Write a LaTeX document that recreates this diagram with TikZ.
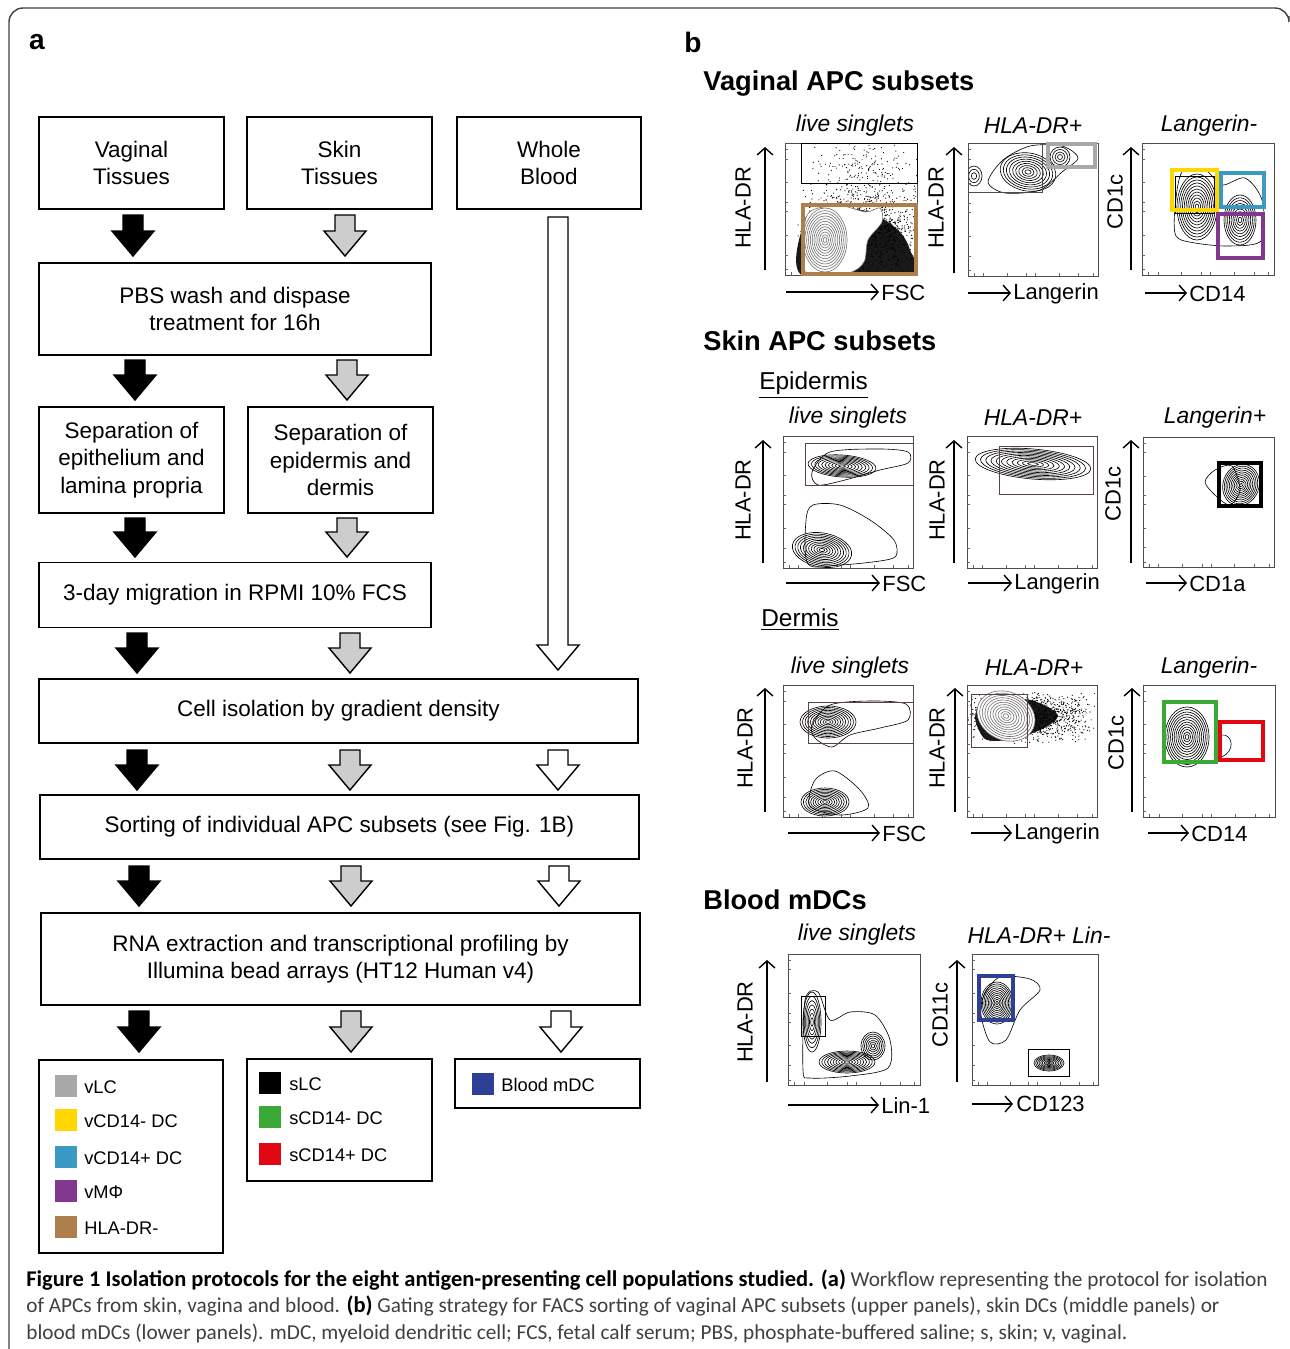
\documentclass[tikz,border=0pt]{standalone}
\usepackage{fontspec}
\setmainfont{Liberation Sans}
\newfontfamily\capfont{Carlito}
\usetikzlibrary{arrows.meta,fit,calc}

\definecolor{vlcgray}{HTML}{A8A8A8}
\definecolor{vyellow}{HTML}{FFD700}
\definecolor{vblue}{HTML}{3A9AC4}
\definecolor{vpurple}{HTML}{833890}
\definecolor{vtan}{HTML}{AD7F4C}
\definecolor{sgreen}{HTML}{3AA935}
\definecolor{sred}{HTML}{E30613}
\definecolor{mdcblue}{HTML}{2F3F96}
\definecolor{arrowgray}{HTML}{CDCDCD}
\definecolor{gatebrown}{HTML}{5B4343}
\definecolor{captext}{HTML}{404040}

% block arrow between two steps: fill, x, top, tip
\newcommand\flowdown[4]{%
  \draw[flowline, fill=#1] (#2-10,#3) -- (#2+10,#3) -- (#2+10,#4-25) -- (#2+21,#4-25)
    -- (#2,#4) -- (#2-21,#4-25) -- (#2-10,#4-25) -- cycle;}
% nested contour lines: cx, cy, rx, ry, n, rotation
\newcommand\contours[6]{%
  \foreach \k in {1,...,#5}{%
    \draw[contour, rotate around={#6:(#1,#2)}] (#1,#2)
      ellipse [x radius={#3*(1-(\k-1)/#5)}, y radius={#4*(1-(\k-1)/#5)}];}}
% cloud of events: n, cx, cy, sx, sy
\newcommand\scatterdots[5]{%
  \foreach \k in {1,...,#1}{%
    \pgfmathsetmacro\px{#2+#4*(rand+rand)/2}%
    \pgfmathsetmacro\py{#3+#5*(rand+rand)/2}%
    \fill (\px,\py) circle [radius=0.6];}}
% small ticks along left and bottom edges
\newcommand\plotticks[4]{%
  \foreach \t in {0.05,0.12,0.3,0.45,0.52,0.7,0.85,0.96}{%
    \draw[tick] ({#1+\t*(#3-#1)},#4) -- ++(0,-3);
    \draw[tick] (#1,{#2+\t*(#4-#2)}) -- ++(3,0);}}
\newcommand\capbold[1]{{\color{black}\fontsize{12.8}{14}\selectfont\bfseries #1}}

\begin{document}
\begin{tikzpicture}[x=0.02cm, y=-0.02cm,
  stepbox/.style={draw, line width=1.1pt, inner sep=0pt, align=center,
    font=\fontsize{12.8}{15.6}\selectfont},
  legbox/.style={draw, line width=1.1pt, inner sep=0pt},
  swatch/.style={minimum size=0.44cm, inner sep=0pt},
  legtext/.style={anchor=west, inner sep=0pt, font=\fontsize{10.4}{12}\selectfont},
  flowline/.style={line width=0.8pt, line join=miter},
  plotbox/.style={draw=black!70, line width=0.5pt, inner sep=0pt},
  gate/.style={draw=gatebrown, line width=0.5pt},
  thickgate/.style={line width=2.3pt},
  contour/.style={line width=0.35pt},
  tick/.style={line width=0.3pt, black!60},
  axis/.style={line width=0.8pt, -{Straight Barb[length=4pt,width=9pt]}},
  axlabel/.style={inner sep=0pt, font=\fontsize{12.5}{14}\selectfont},
  plottitle/.style={inner sep=0pt, font=\fontsize{13}{15}\selectfont\itshape},
  heading/.style={anchor=west, inner sep=0pt, font=\fontsize{15.5}{18}\selectfont\bfseries},
  subheading/.style={anchor=west, inner sep=0pt, font=\fontsize{13.9}{16}\selectfont},
  panel/.style={inner sep=0pt, font=\fontsize{16}{18}\selectfont\bfseries},
  capline/.style={anchor=base west, inner sep=0pt, text=captext,
    font=\capfont\fontsize{12.1}{14}\selectfont}
  ]
\useasboundingbox (0,0) rectangle (1290,1349);

% outer frame
\draw[line width=0.8pt, black!75, rounded corners=8] (9,1349) -- (9,8) -- (1289,8) -- (1289,16);

\node[panel] (labA) at (37,42) {a};
\node[panel] (labB) at (693,42) {b};

% ---------------- panel a: workflow ----------------
\node[stepbox, minimum width=3.7cm, minimum height=1.84cm] (vag) at (131.5,163) {Vaginal\\Tissues};
\node[stepbox, minimum width=3.7cm, minimum height=1.84cm] (skin) at (339.5,163) {Skin\\Tissues};
\node[stepbox, minimum width=3.68cm, minimum height=1.84cm] (blood) at (549,163) {Whole\\Blood};
\node[stepbox, minimum width=7.84cm, minimum height=1.84cm] (pbs) at (235,309) {PBS wash and dispase\\treatment for 16h};
\node[stepbox, minimum width=3.7cm, minimum height=2.12cm] (sepvag) at (131.5,460) {Separation of\\epithelium and\\lamina propria};
\node[stepbox, minimum width=3.7cm, minimum height=2.12cm] (sepskin) at (340.5,460) {Separation of\\epidermis and\\dermis};
\node[stepbox, minimum width=7.84cm, minimum height=1.3cm] (migr) at (235,595) {3-day migration in RPMI 10\% FCS};
\node[stepbox, minimum width=11.98cm, minimum height=1.28cm] (grad) at (338.5,711) {Cell isolation by gradient density};
\node[stepbox, minimum width=11.98cm, minimum height=1.28cm] (sort) at (339.5,827) {Sorting of individual APC subsets (see Fig. 1B)};
\node[stepbox, minimum width=11.98cm, minimum height=1.84cm] (rna) at (340.5,959) {RNA extraction and transcriptional profiling by\\Illumina bead arrays (HT12 Human v4)};

% arrows: vaginal (black), skin (gray), blood (white)
\flowdown{black}{133}{215}{256}
\flowdown{arrowgray}{345}{215}{256}
\flowdown{white}{558}{217}{670}
\flowdown{black}{135}{360}{400}
\flowdown{arrowgray}{347}{360}{400}
\flowdown{black}{135}{518}{557}
\flowdown{arrowgray}{347}{518}{557}
\flowdown{black}{137}{633}{673}
\flowdown{arrowgray}{350}{633}{673}
\flowdown{black}{137}{750}{790}
\flowdown{arrowgray}{350}{750}{790}
\flowdown{white}{558}{750}{790}
\flowdown{black}{139}{866}{906}
\flowdown{arrowgray}{351}{866}{906}
\flowdown{white}{559}{866}{906}
\flowdown{black}{139}{1011}{1052}
\flowdown{arrowgray}{351}{1011}{1052}
\flowdown{white}{561}{1011}{1052}

% legends
\node[legbox, fit={(39,1060) (223,1253)}] (leg1) {};
\node[legbox, fit={(247,1059) (432,1181)}] (leg2) {};
\node[legbox, fit={(455,1059) (640,1108)}] (leg3) {};

\node[swatch, fill=vlcgray] (sw1) at (66,1086) {};
\node[legtext] (lt1) at (84,1087) {vLC};
\node[swatch, fill=vyellow] (sw2) at (66,1120) {};
\node[legtext] (lt2) at (84,1121) {vCD14- DC};
\node[swatch, fill=vblue] (sw3) at (66,1157) {};
\node[legtext] (lt3) at (84,1158) {vCD14+ DC};
\node[swatch, fill=vpurple] (sw4) at (66,1191) {};
\node[legtext] (lt4) at (84,1192) {vMΦ};
\node[swatch, fill=vtan] (sw5) at (66,1227) {};
\node[legtext] (lt5) at (84,1228) {HLA-DR-};

\node[swatch, fill=black] (sw6) at (270,1083) {};
\node[legtext] (lt6) at (289,1084) {sLC};
\node[swatch, fill=sgreen] (sw7) at (270,1117) {};
\node[legtext] (lt7) at (289,1118) {sCD14- DC};
\node[swatch, fill=sred] (sw8) at (270,1154) {};
\node[legtext] (lt8) at (289,1155) {sCD14+ DC};

\node[swatch, fill=mdcblue] (sw9) at (483,1084) {};
\node[legtext] (lt9) at (501,1085) {Blood mDC};

% ---------------- panel b: gating ----------------
\node[heading] (hvag) at (703,84) {Vaginal APC subsets};
\node[heading] (hskin) at (703,341) {Skin APC subsets};
\node[subheading] (hepi) at (759,385) {\underline{Epidermis}};
\node[subheading] (hder) at (761,620) {\underline{Dermis}};
\node[heading] (hbld) at (703,900) {Blood mDCs};

% --- vaginal row ---
\node[plottitle] (tv1) at (855,126) {live singlets};
\node[plottitle] (tv2) at (1033,126) {HLA-DR+};
\node[plottitle] (tv3) at (1209,126) {Langerin-};

\begin{scope}
  \clip (785,143) rectangle (917,275);
  \pgfmathsetseed{11}
  \scatterdots{170}{862}{168}{60}{28}
  \fill[black!90] plot[smooth cycle] coordinates {(803,276) (804,222) (820,210) (850,208) (878,216) (900,232) (910,250) (912,276)};
  \scatterdots{1500}{862}{228}{66}{46}
  \fill[white] plot[smooth cycle] coordinates {(806,273) (805,222) (815,209) (842,206) (866,212) (880,208) (882,222) (868,240) (864,262) (848,273)};
  \begin{scope}[draw=black!55]
    \draw[contour] plot[smooth cycle] coordinates {(806,273) (805,222) (815,209) (842,206) (866,212) (880,208) (882,222) (868,240) (864,262) (848,273)};
    \contours{825}{240}{22}{32}{12}{0}
  \end{scope}
\end{scope}
\node[plotbox, fit={(785,143) (917,275)}] (vp1) {};
\plotticks{785}{143}{917}{275}
\draw[gate, draw=black] (801,143) rectangle (917,183);
\draw[thickgate, draw=vtan] (803,205) rectangle (916,274);

\begin{scope}
  \clip (968,143) rectangle (1098,276);
  \draw[contour] plot[smooth cycle] coordinates {(988,182) (1003,160) (1030,146) (1062,146) (1078,158) (1062,172) (1040,190) (1005,193)};
  \contours{1028}{172}{28}{19}{9}{-10}
  \contours{1060}{157}{10}{10}{4}{0}
  \contours{974}{176}{8}{10}{3}{0}
\end{scope}
\node[plotbox, fit={(968,143) (1098,276)}] (vp2) {};
\plotticks{968}{143}{1098}{276}
\draw[gate, draw=black!70] (968,143) rectangle (1042,192);
\draw[thickgate, draw=vlcgray] (1048,144) rectangle (1095,167);

\begin{scope}
  \clip (1142,143) rectangle (1274,275);
  \draw[contour] plot[smooth cycle] coordinates {(1175,208) (1182,172) (1205,170) (1222,185) (1245,178) (1262,200) (1262,240) (1230,246) (1195,243) (1176,236)};
  \contours{1197}{207}{20}{33}{11}{0}
  \contours{1240}{220}{16}{25}{9}{0}
\end{scope}
\node[plotbox, fit={(1142,143) (1274,275)}] (vp3) {};
\plotticks{1142}{143}{1274}{275}
\draw[gate, draw=black] (1175,176) rectangle (1214,213);
\draw[thickgate, draw=vyellow] (1172,170) rectangle (1217,210);
\draw[thickgate, draw=vblue] (1221,173) rectangle (1264,207);
\draw[thickgate, draw=vpurple] (1218,214) rectangle (1263,258);

\draw[axis] (765,270) -- (765,147);
\node[axlabel, rotate=90] (yv1) at (743,208) {HLA-DR};
\draw[axis] (786,292) -- (879,292);
\node[axlabel, anchor=west] (xv1) at (881,293) {FSC};
\draw[axis] (954,273) -- (954,147);
\node[axlabel, rotate=90] (yv2) at (936,208) {HLA-DR};
\draw[axis] (968,293) -- (1011,293);
\node[axlabel, anchor=west] (xv2) at (1013,294) {Langerin};
\draw[axis] (1131,270) -- (1131,147);
\node[axlabel, rotate=90] (yv3) at (1115,202) {CD1c};
\draw[axis] (1145,293) -- (1187,293);
\node[axlabel, anchor=west] (xv3) at (1189,294) {CD14};

% --- epidermis row ---
\node[plottitle] (te1) at (848,418) {live singlets};
\node[plottitle] (te2) at (1033,418) {HLA-DR+};
\node[plottitle] (te3) at (1215,418) {Langerin+};

\begin{scope}
  \clip (783,436) rectangle (913,568);
  \draw[contour] plot[smooth cycle] coordinates {(812,472) (830,452) (880,449) (908,452) (908,463) (880,470) (845,480) (818,485)};
  \contours{842}{466}{34}{11}{10}{-4}
  \draw[contour] plot[smooth cycle] coordinates {(808,564) (806,520) (813,505) (840,505) (870,520) (894,540) (896,556) (880,561) (840,565)};
  \contours{822}{550}{30}{17}{11}{-10}
\end{scope}
\node[plotbox, fit={(783,436) (913,568)}] (ep1) {};
\plotticks{783}{436}{913}{568}
\draw[gate] (805,443) rectangle (913,485);

\begin{scope}
  \clip (967,436) rectangle (1097,568);
  \contours{1033}{464}{58}{15}{11}{-5}
\end{scope}
\node[plotbox, fit={(967,436) (1097,568)}] (ep2) {};
\plotticks{967}{436}{1097}{568}
\draw[gate] (999,446) rectangle (1093,494);

\begin{scope}
  \clip (1143,437) rectangle (1274,567);
  \draw[contour] plot[smooth cycle] coordinates {(1205,482) (1215,470) (1232,466) (1240,490) (1230,505) (1216,496)};
  \contours{1241}{485}{18}{21}{11}{-20}
\end{scope}
\node[plotbox, fit={(1143,437) (1274,567)}] (ep3) {};
\plotticks{1143}{437}{1274}{567}
\draw[thickgate, draw=black, line width=2.8pt] (1219,463) rectangle (1261,506);

\draw[axis] (763,563) -- (763,440);
\node[axlabel, rotate=90] (ye1) at (743,500) {HLA-DR};
\draw[axis] (786,583) -- (880,583);
\node[axlabel, anchor=west] (xe1) at (882,584) {FSC};
\draw[axis] (954,563) -- (954,440);
\node[axlabel, rotate=90] (ye2) at (937,500) {HLA-DR};
\draw[axis] (968,583) -- (1012,583);
\node[axlabel, anchor=west] (xe2) at (1014,584) {Langerin};
\draw[axis] (1131,563) -- (1131,440);
\node[axlabel, rotate=90] (ye3) at (1113,494) {CD1c};
\draw[axis] (1146,583) -- (1187,583);
\node[axlabel, anchor=west] (xe3) at (1189,584) {CD1a};

% --- dermis row ---
\node[plottitle] (td1) at (850,668) {live singlets};
\node[plottitle] (td2) at (1034,668) {HLA-DR+};
\node[plottitle] (td3) at (1209,668) {Langerin-};

\begin{scope}
  \clip (783,685) rectangle (913,817);
  \draw[contour] plot[smooth cycle] coordinates {(812,725) (830,705) (870,701) (906,704) (908,720) (880,728) (850,735) (832,747) (815,738)};
  \contours{828}{722}{28}{16}{11}{0}
  \draw[contour] plot[smooth cycle] coordinates {(810,806) (815,780) (835,771) (860,790) (868,808) (840,815)};
  \contours{825}{802}{24}{14}{10}{0}
\end{scope}
\node[plotbox, fit={(783,685) (913,817)}] (de1) {};
\plotticks{783}{685}{913}{817}
\draw[gate] (808,702) rectangle (913,743);

\begin{scope}
  \clip (967,685) rectangle (1097,817);
  \pgfmathsetseed{5}
  \fill[black!90] plot[smooth cycle] coordinates {(975,718) (982,702) (1000,697) (1030,700) (1048,707) (1058,716) (1048,726) (1030,734) (1008,740) (985,739)};
  \scatterdots{1300}{1028}{718}{70}{26}
  \fill[white, rotate around={-25:(1006,716)}] (1006,716) ellipse [x radius=30, y radius=24];
  \begin{scope}[draw=black!55]
    \contours{1006}{716}{30}{24}{11}{-25}
  \end{scope}
\end{scope}
\node[plotbox, fit={(967,685) (1097,817)}] (de2) {};
\plotticks{967}{685}{1097}{817}
\draw[gate] (971,694) rectangle (1027,747);

\begin{scope}
  \clip (1143,685) rectangle (1275,817);
  \contours{1187}{737}{22}{30}{12}{0}
  \draw[contour] (1221,735) .. controls (1233,733) and (1236,752) .. (1221,757);
\end{scope}
\node[plotbox, fit={(1143,685) (1275,817)}] (de3) {};
\plotticks{1143}{685}{1275}{817}
\draw[thickgate, draw=sgreen] (1164,702) rectangle (1216,762);
\draw[thickgate, draw=sred] (1220,722) rectangle (1263,760);

\draw[axis] (765,812) -- (765,688);
\node[axlabel, rotate=90] (yd1) at (745,748) {HLA-DR};
\draw[axis] (788,833) -- (880,833);
\node[axlabel, anchor=west] (xd1) at (882,834) {FSC};
\draw[axis] (955,812) -- (955,688);
\node[axlabel, rotate=90] (yd2) at (937,748) {HLA-DR};
\draw[axis] (971,833) -- (1012,833);
\node[axlabel, anchor=west] (xd2) at (1014,834) {Langerin};
\draw[axis] (1132,812) -- (1132,688);
\node[axlabel, rotate=90] (yd3) at (1116,743) {CD1c};
\draw[axis] (1148,833) -- (1189,833);
\node[axlabel, anchor=west] (xd3) at (1191,834) {CD14};

% --- blood row ---
\node[plottitle] (tb1) at (857,935) {live singlets};
\node[plottitle] (tb2) at (1039,935) {HLA-DR+ Lin-};

\begin{scope}
  \clip (788,954) rectangle (920,1085);
  \draw[contour] plot[smooth cycle] coordinates {(803,1070) (805,1000) (818,992) (830,1020) (850,1012) (875,1015) (890,1040) (888,1068) (850,1076) (810,1078)};
  \contours{812}{1022}{9}{30}{7}{0}
  \contours{847}{1062}{28}{11}{10}{0}
  \contours{873}{1046}{12}{14}{7}{0}
\end{scope}
\node[plotbox, fit={(788,954) (920,1085)}] (bp1) {};
\plotticks{788}{954}{920}{1085}
\draw[gate, draw=black] (801,996) rectangle (825,1036);

\begin{scope}
  \clip (972,954) rectangle (1098,1085);
  \draw[contour] plot[smooth cycle] coordinates {(984,995) (1000,977) (1030,979) (1040,990) (1020,1010) (1006,1040) (990,1042) (981,1015)};
  \contours{997}{1003}{16}{21}{11}{0}
  \contours{1049}{1063}{15}{8}{9}{0}
\end{scope}
\node[plotbox, fit={(972,954) (1098,1085)}] (bp2) {};
\plotticks{972}{954}{1098}{1085}
\draw[gate, draw=black] (1028,1049) rectangle (1069,1076);
\draw[thickgate, draw=mdcblue] (979,976) rectangle (1013,1020);

\draw[axis] (767,1082) -- (767,960);
\node[axlabel, rotate=90] (yb1) at (745,1022) {HLA-DR};
\draw[axis] (788,1105) -- (879,1105);
\node[axlabel, anchor=west] (xb1) at (881,1106) {Lin-1};
\draw[axis] (957,1082) -- (957,960);
\node[axlabel, rotate=90] (yb2) at (940,1015) {CD11c};
\draw[axis] (972,1104) -- (1013,1104);
\node[axlabel, anchor=west] (xb2) at (1016,1104) {CD123};

% ---------------- caption ----------------
\node[capline] (cap1) at (26,1286) {\capbold{Figure 1 Isolation protocols for the eight antigen-presenting cell populations studied. (a)} Workflow representing the protocol for isolation};
\node[capline] (cap2) at (26,1312) {of APCs from skin, vagina and blood. \capbold{(b)} Gating strategy for FACS sorting of vaginal APC subsets (upper panels), skin DCs (middle panels) or};
\node[capline] (cap3) at (26,1339) {blood mDCs (lower panels). mDC, myeloid dendritic cell; FCS, fetal calf serum; PBS, phosphate-buffered saline; s, skin; v, vaginal.};
\end{tikzpicture}
\end{document}
